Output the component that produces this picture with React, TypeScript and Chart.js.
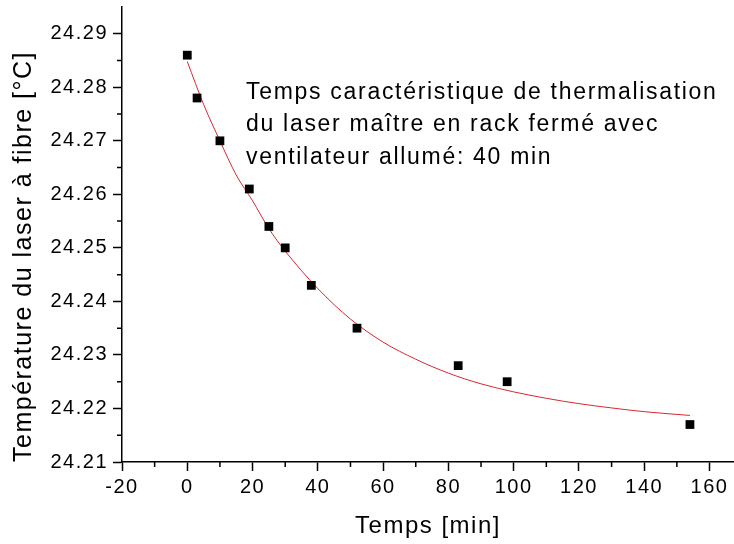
import React, { useEffect, useRef } from 'react';
import { Chart, registerables } from 'chart.js';

Chart.register(...registerables);

// Measured points
const TIMES = [0, 3, 10, 19, 25, 30, 38, 52, 83, 98, 154];
const TEMPS = [24.286, 24.278, 24.27, 24.261, 24.254, 24.25, 24.243, 24.235, 24.228, 24.225, 24.217];

// Fitted curve
const FIT_TIMES = [0, 5, 10, 15, 20, 25, 30, 40, 50, 60, 70, 80, 90, 100, 110, 120, 130, 140, 154];
const FIT_TEMPS = [
  24.2848, 24.2768, 24.27, 24.2636, 24.2588, 24.2536, 24.2494, 24.2424, 24.2367, 24.2324,
  24.2292, 24.2266, 24.2246, 24.2231, 24.2219, 24.2209, 24.2201, 24.2194, 24.2187,
];

// Axes
const X_MIN = -20;
const X_MAX = 167.5;
const Y_MIN = 24.21;
const Y_MAX = 24.295;
const X_TICKS = [-20, 0, 20, 40, 60, 80, 100, 120, 140, 160];
const X_MINOR = [-10, 10, 30, 50, 70, 90, 110, 130, 150];
const Y_TICKS = [24.21, 24.22, 24.23, 24.24, 24.25, 24.26, 24.27, 24.28, 24.29];
const Y_MINOR = [24.215, 24.225, 24.235, 24.245, 24.255, 24.265, 24.275, 24.285];

const X_TITLE = 'Temps [min]';
const Y_TITLE = 'Température du laser à fibre [°C]';

const NOTE_LINES = [
  'Temps caractéristique de thermalisation',
  'du laser maître en rack fermé avec',
  'ventilateur allumé: 40 min',
];
const NOTE_X = 18;
const NOTE_Y = 24.2779;

const FONT = '"Liberation Sans", Arial, sans-serif';

const spacingPlugin = {
  id: 'spacing',
  beforeDraw(chart: any) {
    chart.ctx.letterSpacing = '1.5px';
  },
};

const extrasPlugin = {
  id: 'extras',
  afterDraw(chart: any) {
    const ctx = chart.ctx;
    const xs = chart.scales.x;
    const ys = chart.scales.y;
    const area = chart.chartArea;
    ctx.save();
    ctx.strokeStyle = '#000';
    ctx.lineWidth = 1.5;
    ctx.beginPath();
    X_MINOR.forEach((v) => {
      const px = xs.getPixelForValue(v);
      ctx.moveTo(px, area.bottom);
      ctx.lineTo(px, area.bottom + 5);
    });
    Y_MINOR.forEach((v) => {
      const py = ys.getPixelForValue(v);
      ctx.moveTo(area.left, py);
      ctx.lineTo(area.left - 5, py);
    });
    ctx.stroke();

    ctx.fillStyle = '#000';
    ctx.font = `23px ${FONT}`;
    ctx.letterSpacing = '1.7px';
    ctx.textAlign = 'left';
    ctx.textBaseline = 'alphabetic';
    const x0 = xs.getPixelForValue(NOTE_X);
    const y0 = ys.getPixelForValue(NOTE_Y);
    NOTE_LINES.forEach((line, i) => {
      ctx.fillText(line, x0, y0 + i * 32.5);
    });
    ctx.restore();
  },
};

export default function App() {
  const ref = useRef<HTMLCanvasElement | null>(null);

  useEffect(() => {
    if (!ref.current) return;
    const chart = new Chart(ref.current, {
      type: 'scatter',
      data: {
        datasets: [
          {
            label: 'Mesures',
            data: TIMES.map((t, i) => ({ x: t, y: TEMPS[i] })),
            pointStyle: 'rect',
            pointRadius: 6.2,
            pointBackgroundColor: '#000',
            pointBorderWidth: 0,
            showLine: false,
          },
          {
            label: 'Ajustement',
            data: FIT_TIMES.map((t, i) => ({ x: t, y: FIT_TEMPS[i] })),
            showLine: true,
            borderColor: 'rgb(214, 40, 48)',
            borderWidth: 1,
            pointRadius: 0,
            cubicInterpolationMode: 'monotone',
            fill: false,
          },
        ],
      },
      options: {
        animation: false,
        responsive: false,
        maintainAspectRatio: false,
        devicePixelRatio: 1,
        layout: { autoPadding: false, padding: { top: 7, left: 0, right: 0, bottom: 0 } },
        plugins: {
          legend: { display: false },
          tooltip: { enabled: false },
        },
        scales: {
          x: {
            type: 'linear',
            min: X_MIN,
            max: X_MAX,
            afterBuildTicks: (axis: any) => {
              axis.ticks = X_TICKS.map((v) => ({ value: v }));
            },
            afterFit: (scale: any) => {
              scale.height = 82;
              scale.paddingLeft = 0;
              scale.paddingRight = 0;
            },
            grid: {
              drawOnChartArea: false,
              drawTicks: true,
              tickLength: 9,
              tickColor: '#000',
              tickWidth: 1.5,
            },
            border: { display: true, color: '#000', width: 1.5 },
            ticks: {
              color: '#000',
              padding: 4,
              maxRotation: 0,
              autoSkip: false,
              font: { family: FONT, size: 20 },
              callback: (v: any) => String(v),
            },
            title: {
              display: true,
              text: X_TITLE,
              color: '#000',
              font: { family: FONT, size: 24 },
              padding: { top: 0, bottom: 3 },
            },
          },
          y: {
            type: 'linear',
            min: Y_MIN,
            max: Y_MAX,
            afterBuildTicks: (axis: any) => {
              axis.ticks = Y_TICKS.map((v) => ({ value: v }));
            },
            afterFit: (scale: any) => {
              scale.width = 122;
              scale.paddingTop = 0;
              scale.paddingBottom = 0;
            },
            grid: {
              drawOnChartArea: false,
              drawTicks: true,
              tickLength: 9,
              tickColor: '#000',
              tickWidth: 1.5,
            },
            border: { display: true, color: '#000', width: 1.5 },
            ticks: {
              color: '#000',
              padding: 5,
              autoSkip: false,
              font: { family: FONT, size: 20 },
              callback: (v: any) => Number(v).toFixed(2),
            },
            title: {
              display: true,
              text: Y_TITLE,
              align: 'start',
              color: '#000',
              font: { family: FONT, size: 25 },
              padding: { top: 9, bottom: 0 },
            },
          },
        },
      },
      plugins: [spacingPlugin, extrasPlugin],
    } as any);
    return () => chart.destroy();
  }, []);

  return (
    <div style={{ position: 'fixed', left: 0, top: 0, width: 734, height: 544, background: '#fff' }}>
      <canvas ref={ref} width={734} height={544} style={{ display: 'block' }} />
    </div>
  );
}
